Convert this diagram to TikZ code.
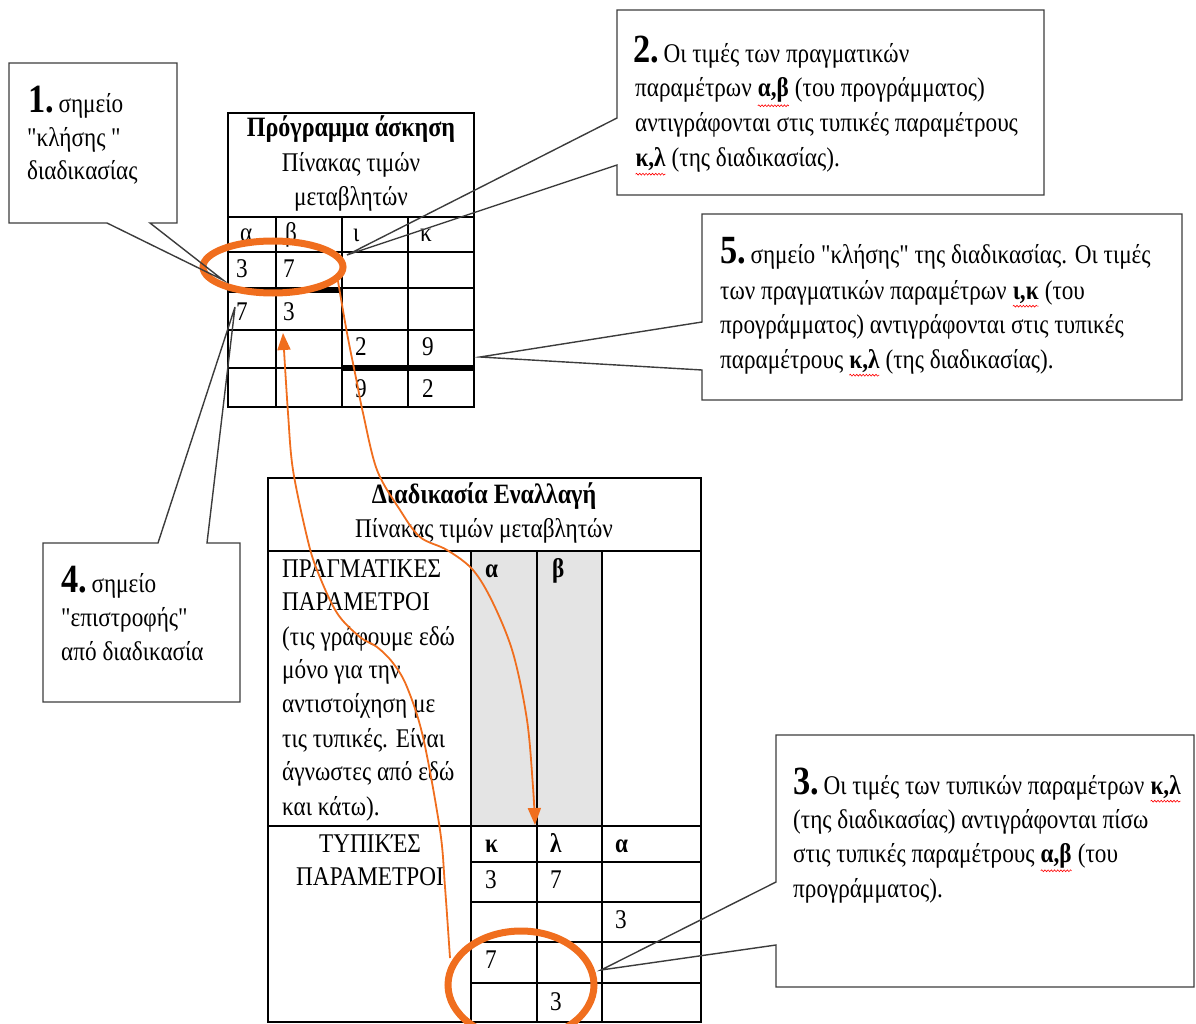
\documentclass[tikz,border=0pt]{standalone}
\usepackage{fontspec}
\setmainfont{Liberation Serif}[FakeStretch=0.86,Ligatures=TeXOff]
\usetikzlibrary{arrows.meta,decorations.pathmorphing,shapes.geometric}

\definecolor{flowor}{RGB}{240,110,30}
\definecolor{boxline}{RGB}{60,60,60}
\definecolor{cellgray}{RGB}{228,228,228}

% red spell-check squiggle under a word
\newcommand\wv[1]{\tikz[baseline=(sq.base)]{\node[inner sep=0pt,outer sep=0pt](sq){#1};
  \draw[red,line width=0.6pt,decorate,decoration={snake,amplitude=0.9pt,segment length=3.2pt}]
  ([yshift=-3pt]sq.south west)--([yshift=-3pt]sq.south east);}}
\newcommand\bignum[1]{{\fontsize{40}{40}\selectfont\bfseries #1}}

\begin{document}
\begin{tikzpicture}[x=1pt,y=-1pt,
  txt/.style={anchor=base west,inner sep=0pt,font=\fontsize{27}{32}\selectfont},
  ctxt/.style={anchor=base,inner sep=0pt,font=\fontsize{27}{32}\selectfont},
  rule/.style={line width=1.3pt,black},
  heavy/.style={line width=6pt,black},
  ring/.style={ellipse,draw=flowor,line width=7pt,inner sep=0pt},
  flow/.style={draw=flowor,line width=1.8pt,-{Triangle[length=17pt,width=13pt]}},
  callout/.style={draw=boxline,line width=1.4pt,line join=miter}]
\useasboundingbox (0,0) rectangle (1196,1024);

%% ---------- table: Πρόγραμμα άσκηση ----------
\draw[rule] (228,113) rectangle (474,407);
\draw[rule] (228,217) -- (474,217);
\foreach \yy in {252,288,330,368} \draw[rule] (228,\yy) -- (474,\yy);
\foreach \xx in {276,342,408} \draw[rule] (\xx,217) -- (\xx,407);
\draw[heavy] (228,290) -- (342,290);
\draw[heavy] (342,368) -- (474,368);

\node[ctxt,font=\fontsize{28}{32}\selectfont\bfseries] (pt1) at (351,137) {Πρόγραμμα άσκηση};
\node[ctxt] (pt2) at (351,172) {Πίνακας τιμών};
\node[ctxt] (pt3) at (351,206) {μεταβλητών};
\node[txt] (pa) at (240,242) {α};
\node[txt] (pb) at (285,242) {β};
\node[txt] (pi) at (353,242) {ι};
\node[txt] (pk) at (420,242) {κ};
\node[txt] (p11) at (236,277) {3};
\node[txt] (p12) at (283,277) {7};
\node[txt] (p21) at (236,320) {7};
\node[txt] (p22) at (283,320) {3};
\node[txt] (p33) at (355,355) {2};
\node[txt] (p34) at (422,355) {9};
\node[txt] (p43) at (355,397) {9};
\node[txt] (p44) at (422,397) {2};

%% ---------- table: Διαδικασία Εναλλαγή ----------
\fill[cellgray] (471,551) rectangle (602,826);
\draw[rule] (268,478) rectangle (701,1022);
\draw[rule] (268,551) -- (701,551);
\draw[rule] (268,826) -- (701,826);
\foreach \xx in {471,537,602} \draw[rule] (\xx,551) -- (\xx,1022);
\foreach \yy in {862,902,942,983} \draw[rule] (471,\yy) -- (701,\yy);

\node[ctxt,font=\fontsize{28}{32}\selectfont\bfseries] (dt1) at (484,503) {Διαδικασία Εναλλαγή};
\node[ctxt] (dt2) at (484,537) {Πίνακας τιμών μεταβλητών};
\node[txt] (r1) at (282,577) {ΠΡΑΓΜΑΤΙΚΕΣ};
\node[txt] (r2) at (282,610) {ΠΑΡΑΜΕΤΡΟΙ};
\node[txt] (r3) at (282,645) {(τις γράφουμε εδώ};
\node[txt] (r4) at (282,678) {μόνο για την};
\node[txt] (r5) at (282,712) {αντιστοίχηση με};
\node[txt] (r6) at (282,747) {τις τυπικές. Είναι};
\node[txt] (r7) at (282,780) {άγνωστες από εδώ};
\node[txt] (r8) at (282,815) {και κάτω).};
\node[txt,font=\fontsize{27}{32}\selectfont\bfseries] (da) at (485,577) {α};
\node[txt,font=\fontsize{27}{32}\selectfont\bfseries] (db) at (552,577) {β};
\node[ctxt] (f1) at (370,852) {ΤΥΠΙΚΈΣ};
\node[ctxt] (f2) at (370,885) {ΠΑΡΑΜΕΤΡΟΙ};
\node[txt,font=\fontsize{27}{32}\selectfont\bfseries] (fk) at (485,852) {κ};
\node[txt,font=\fontsize{27}{32}\selectfont\bfseries] (fl) at (550,852) {λ};
\node[txt,font=\fontsize{27}{32}\selectfont\bfseries] (fa) at (615,852) {α};
\node[txt] (q11) at (485,888) {3};
\node[txt] (q12) at (550,888) {7};
\node[txt] (q23) at (615,928) {3};
\node[txt] (q31) at (485,968) {7};
\node[txt] (q42) at (550,1010) {3};

%% ---------- orange rings and value flows ----------
\node[ring,minimum width=140pt,minimum height=52pt] (ringtop) at (273,267) {};
\node[ring,minimum width=146pt,minimum height=108pt] (ringbot) at (521,985) {};

\coordinate (ka) at (535,825);
\coordinate (bb) at (283,333);
\draw[flow] plot[smooth,tension=0.55] coordinates {(ringtop.-12) (347,333) (357,383) (363,413)
  (377,470) (400,510) (420,537) (447,550) (473,570) (493,603) (513,653) (527,720) (533,787) (ka)};
\draw[flow] plot[smooth,tension=0.55] coordinates {(450,958) (445,887) (440,830) (423,737) (407,687)
  (393,663) (377,647) (360,637) (337,613) (317,570) (307,537) (293,470) (288,413) (bb)};

%% ---------- callouts ----------
\coordinate (tip1) at (223,280);
\draw[callout] (9,63) -- (177,63) -- (177,223) -- (150,223) -- (tip1) -- (107,223) -- (9,223) -- cycle;
\node[txt] (c1a) at (28,113) {\bignum{1.}\,σημείο};
\node[txt] (c1b) at (27,147) {"κλήσης "};
\node[txt] (c1c) at (27,180) {διαδικασίας};

\coordinate (tip2) at (347,255);
\draw[callout] (617,10) -- (1044,10) -- (1044,195) -- (617,195) -- (617,165) -- (tip2) -- (617,118) -- cycle;
\node[txt] (c2a) at (633,63) {\bignum{2.}\,Οι τιμές των πραγματικών};
\node[txt] (c2b) at (635,97) {παραμέτρων \wv{\bfseries α,β} (του προγράμματος)};
\node[txt] (c2c) at (635,132) {αντιγράφονται στις τυπικές παραμέτρους};
\node[txt] (c2d) at (635,167) {\wv{\bfseries κ,λ} (της διαδικασίας).};

\coordinate (tip5) at (480,357);
\draw[callout] (702,214) -- (1182,214) -- (1182,400) -- (702,400) -- (702,370) -- (tip5) -- (702,322) -- cycle;
\node[txt] (c5a) at (720,264) {\bignum{5.}\,σημείο "κλήσης" της διαδικασίας. Οι τιμές};
\node[txt] (c5b) at (720,299) {των πραγματικών παραμέτρων \wv{\bfseries ι,κ} (του};
\node[txt] (c5c) at (720,333) {προγράμματος) αντιγράφονται στις τυπικές};
\node[txt] (c5d) at (720,368) {παραμέτρους \wv{\bfseries κ,λ} (της διαδικασίας).};

\coordinate (tip3) at (601,970);
\draw[callout] (776,735) -- (1194,735) -- (1194,987) -- (776,987) -- (776,945) -- (tip3) -- (776,882) -- cycle;
\node[txt] (c3a) at (793,794) {\bignum{3.}\,Οι τιμές των τυπικών παραμέτρων \wv{\bfseries κ,λ}};
\node[txt] (c3b) at (793,828) {(της διαδικασίας) αντιγράφονται πίσω};
\node[txt] (c3c) at (793,862) {στις τυπικές παραμέτρους \wv{\bfseries α,β} (του};
\node[txt] (c3d) at (793,897) {προγράμματος).};

\coordinate (tip4) at (235,307);
\draw[callout] (43,543) -- (158,543) -- (tip4) -- (207,543) -- (240,543) -- (240,702) -- (43,702) -- cycle;
\node[txt] (c4a) at (61,592) {\bignum{4.}\,σημείο};
\node[txt] (c4b) at (61,626) {"επιστροφής"};
\node[txt] (c4c) at (61,660) {από διαδικασία};
\end{tikzpicture}
\end{document}
